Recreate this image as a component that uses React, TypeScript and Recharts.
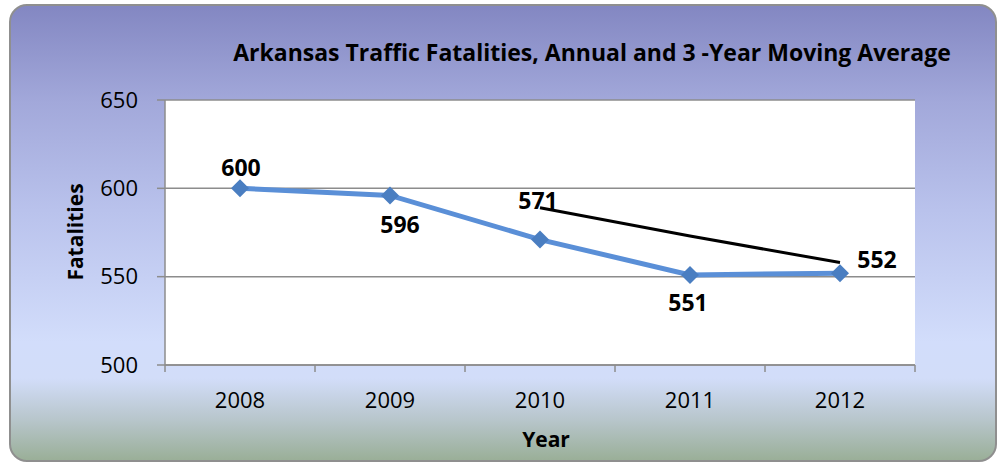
import React from 'react';
import { LineChart, Line, XAxis, YAxis, CartesianGrid, LabelList } from 'recharts';

const years = ['2008', '2009', '2010', '2011', '2012'];
const annual = [600, 596, 571, 551, 552];
const movingAvg = [null, null, 589, 573, 558];
const yTicks = [500, 550, 600, 650];

// label placement offsets for annual data labels (dx, dy of baseline from point)
const labelOffsets: [number, number][] = [
  [1, -12],
  [10, 38],
  [-2, -31],
  [-2, 36],
  [37, -5],
];

const data = years.map((y, i) => ({ year: y, annual: annual[i], avg: movingAvg[i] }));

const W = 997;
const H = 462;
const X_AXIS_H = 30;
const M = { top: 100, right: 82, bottom: 97 - X_AXIS_H, left: 0 };
const Y_AXIS_W = 165;
const PLOT_W = W - M.left - M.right - Y_AXIS_W;
const BAND = PLOT_W / years.length;
const FONT = '"Open Sans", sans-serif';

const Diamond = (props: any) => {
  const { cx, cy } = props;
  if (cx == null || cy == null) return null;
  const r = 9;
  return (
    <polygon
      points={`${cx},${cy - r} ${cx + r},${cy} ${cx},${cy + r} ${cx - r},${cy}`}
      fill="#4A7EC1"
    />
  );
};

const XTick = (props: any) => {
  const { x, y, payload, index } = props;
  return (
    <g>
      {index === 0 && <line x1={x - BAND / 2} x2={x - BAND / 2} y1={y} y2={y + 7} stroke="#8c8c8c" strokeWidth={1.5} />}
      <line x1={x + BAND / 2} x2={x + BAND / 2} y1={y} y2={y + 7} stroke="#8c8c8c" strokeWidth={1.5} />
      <text x={x} y={y + 43} textAnchor="middle" fontSize={22} fontFamily={FONT} fill="#000">
        {payload.value}
      </text>
    </g>
  );
};

const AnnualLabel = (props: any) => {
  const { x, y, value, index } = props;
  const [dx, dy] = labelOffsets[index] || [0, -10];
  return (
    <text x={x + dx} y={y + dy} textAnchor="middle" fontSize={23} fontWeight="bold" fontFamily={FONT} fill="#000">
      {value}
    </text>
  );
};

export default function App() {
  return (
    <div style={{ position: 'absolute', left: 0, top: 0, width: W, height: H }}>
      <div
        style={{
          position: 'absolute',
          left: 9,
          top: 4,
          width: 984,
          height: 454,
          borderRadius: 18,
          border: '2px solid #8f8f8f',
          background:
            'linear-gradient(to bottom, #8387C2 0%, #A2A8DA 21%, #B9C2EC 45%, #D2DDFB 74%, #D2DDF9 82%, #B8C6CC 91%, #9AAF98 100%)',
        }}
      />
      <div style={{ position: 'absolute', left: 0, top: 0 }}>
        <LineChart width={W} height={H} data={data} margin={M}>
          <CartesianGrid vertical={false} fill="#ffffff" stroke="#8c8c8c" strokeWidth={1.5} />
          <XAxis
            dataKey="year"
            height={X_AXIS_H}
            padding={{ left: BAND / 2, right: BAND / 2 }}
            tick={<XTick />}
            tickLine={false}
            tickSize={0}
            tickMargin={0}
            axisLine={{ stroke: '#8c8c8c', strokeWidth: 1.5 }}
            interval={0}
          />
          <YAxis
            width={Y_AXIS_W}
            domain={[500, 650]}
            ticks={yTicks}
            interval={0}
            tickSize={8}
            tickMargin={19}
            tickLine={{ stroke: '#8c8c8c', strokeWidth: 1.5 }}
            axisLine={{ stroke: '#8c8c8c', strokeWidth: 1.5 }}
            tick={{ fontSize: 22, fontFamily: FONT, fill: '#000' }}
          />
          <Line
            type="linear"
            dataKey="avg"
            stroke="#000"
            strokeWidth={3}
            dot={false}
            activeDot={false}
            connectNulls={false}
            isAnimationActive={false}
          />
          <Line
            type="linear"
            dataKey="annual"
            stroke="#5A8FD7"
            strokeWidth={5}
            dot={<Diamond />}
            activeDot={false}
            isAnimationActive={false}
          >
            <LabelList dataKey="annual" content={<AnnualLabel />} />
          </Line>
          <text x={592} y={61} textAnchor="middle" fontSize={23} fontWeight="bold" fontFamily={FONT} fill="#000">
            Arkansas Traffic Fatalities, Annual and 3 -Year Moving Average
          </text>
          <text
            x={83}
            y={232}
            textAnchor="middle"
            fontSize={21}
            fontWeight="bold"
            fontFamily={FONT}
            fill="#000"
            transform="rotate(-90 83 232)"
          >
            Fatalities
          </text>
          <text x={546} y={447} textAnchor="middle" fontSize={21} fontWeight="bold" fontFamily={FONT} fill="#000">
            Year
          </text>
        </LineChart>
      </div>
    </div>
  );
}
